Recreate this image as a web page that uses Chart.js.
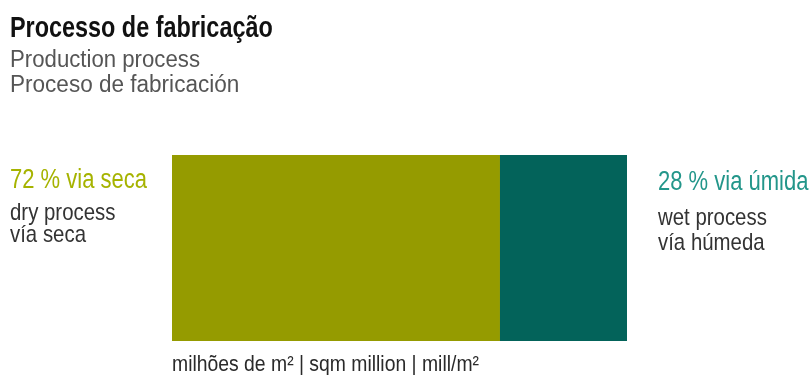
<!DOCTYPE html>
<html>
<head>
<meta charset="utf-8">
<script src="https://cdn.jsdelivr.net/npm/chart.js@4"></script>
<style>
    body { margin: 0; width: 812px; height: 375px; background: #fff; overflow: hidden; position: relative;
           font-family: "Liberation Sans", Arial, sans-serif; }
    #wrap { position: absolute; left: 0; top: 0; width: 812px; height: 375px; }
    /* condensed look: squeeze each line horizontally from its left edge */
    .t { position: absolute; white-space: nowrap; line-height: 1; transform-origin: 0 0; }
    #title { left: 10px; top: 12px; font-size: 30px; font-weight: bold; color: #111; transform: scaleX(0.78); }
    #sub1 { left: 10px; top: 48px; font-size: 23px; color: #555; transform: scaleX(0.965); }
    #sub2 { left: 10px; top: 73px; font-size: 23px; color: #555; transform: scaleX(0.98); }
    .pct { font-size: 27px; transform: scaleX(0.815); }
    .lab { font-size: 24px; color: #333; transform: scaleX(0.85); }
    #unit { left: 172px; top: 353px; font-size: 22px; color: #2a2a2a; transform: scaleX(0.88); }
</style>
</head>
<body>
<div id="wrap"><canvas id="chart" width="812" height="375"></canvas></div>
<div class="t" id="title">Processo de fabricação</div>
<div class="t" id="sub1">Production process</div>
<div class="t" id="sub2">Proceso de fabricación</div>
<div class="t" id="unit">milhões de m² | sqm million | mill/m²</div>
<div id="labels"></div>
<script>
// percentual share of each production route
const categories = ["via seca", "via úmida"];
const shares = [72, 28];
const subLabels = [["dry process", "vía seca"], ["wet process", "vía húmeda"]];
const barColors = ["#959b00", "#03635a"];
const textColors = ["#a6b300", "#23968a"];

// side captions: dry process on the left, wet process on the right
const captionPos = [
    { left: 10, top: 166, gap: 34, step: 22 },
    { left: 658, top: 168, gap: 37, step: 25 }
];
const labelsBox = document.getElementById("labels");
categories.forEach((cat, i) => {
    const p = captionPos[i];
    const head = document.createElement("div");
    head.className = "t pct";
    head.style.left = p.left + "px";
    head.style.top = p.top + "px";
    head.style.color = textColors[i];
    head.textContent = shares[i] + " % " + cat;
    labelsBox.appendChild(head);
    subLabels[i].forEach((txt, j) => {
        const el = document.createElement("div");
        el.className = "t lab";
        el.style.left = p.left + "px";
        el.style.top = (p.top + p.gap + j * p.step) + "px";
        el.textContent = txt;
        labelsBox.appendChild(el);
    });
});

new Chart(document.getElementById("chart").getContext("2d"), {
    type: "bar",
    data: {
        labels: [""],
        datasets: categories.map((cat, i) => ({
            label: cat,
            data: [shares[i]],
            backgroundColor: barColors[i],
            borderWidth: 0,
            barPercentage: 1,
            categoryPercentage: 1
        }))
    },
    options: {
        indexAxis: "y",
        responsive: false,
        animation: false,
        layout: { padding: { left: 172, right: 185, top: 155, bottom: 34 } },
        plugins: { legend: { display: false }, tooltip: { enabled: false } },
        scales: {
            x: { stacked: true, min: 0, max: 100, display: false },
            y: { stacked: true, display: false }
        }
    }
});
</script>
</body>
</html>
